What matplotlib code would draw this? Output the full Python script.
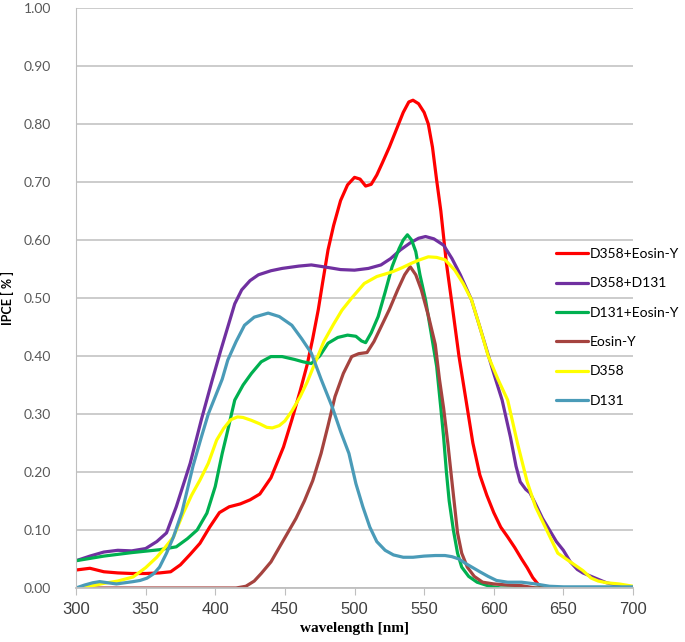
import matplotlib
matplotlib.use('Agg')
import matplotlib.pyplot as plt

# D358+Eosin-Y
wl_red = [300, 310, 320, 330, 340, 350, 360, 368, 375, 382, 389, 396, 403, 410, 418, 425, 432, 440, 449, 455,
          461, 466, 470, 474, 477, 481, 485, 490, 495, 500, 504, 508, 512, 516, 520, 525, 530, 535, 539, 542,
          546, 550, 553, 556, 559, 562, 566, 570, 575, 581, 585, 590, 595, 600, 605, 610, 615, 620, 624, 628,
          632, 636, 640, 650, 700]
iv_red = [0.031, 0.034, 0.028, 0.026, 0.025, 0.025, 0.026, 0.028, 0.040, 0.058, 0.077, 0.105, 0.130, 0.140,
          0.145, 0.152, 0.162, 0.190, 0.243, 0.290, 0.340, 0.385, 0.430, 0.480, 0.525, 0.583, 0.625, 0.668,
          0.695, 0.708, 0.705, 0.693, 0.696, 0.712, 0.733, 0.760, 0.790, 0.820, 0.838, 0.841, 0.835, 0.820,
          0.800, 0.760, 0.703, 0.650, 0.560, 0.490, 0.400, 0.310, 0.250, 0.195, 0.160, 0.130, 0.105, 0.088,
          0.070, 0.050, 0.035, 0.018, 0.006, 0.001, 0.0, 0.0, 0.0]

# D358+D131
wl_pur = [300, 310, 320, 330, 340, 350, 358, 365, 372, 382, 390, 398, 404, 409, 414, 419, 425, 431, 440, 448,
          460, 469, 480, 490, 500, 510, 519, 526, 533, 540, 546, 551, 557, 564, 570, 576, 584, 590, 595, 600,
          606, 612, 616, 619, 623, 626, 630, 635, 640, 645, 650, 655, 660, 664, 670, 675, 681, 690, 700]
iv_pur = [0.047, 0.055, 0.062, 0.065, 0.064, 0.068, 0.080, 0.095, 0.140, 0.215, 0.290, 0.360, 0.410, 0.450,
          0.490, 0.514, 0.530, 0.540, 0.547, 0.551, 0.555, 0.557, 0.553, 0.549, 0.548, 0.551, 0.557, 0.568,
          0.583, 0.595, 0.603, 0.606, 0.602, 0.591, 0.568, 0.540, 0.497, 0.450, 0.410, 0.370, 0.324, 0.260,
          0.210, 0.183, 0.170, 0.164, 0.145, 0.120, 0.100, 0.080, 0.065, 0.045, 0.032, 0.026, 0.020, 0.015,
          0.009, 0.004, 0.0]

# D131+Eosin-Y
wl_grn = [300, 310, 320, 330, 340, 348, 360, 372, 380, 387, 394, 400, 405, 408, 414, 420, 426, 433, 440, 448,
          457, 463, 469, 475, 481, 488, 495, 501, 505, 508, 512, 517, 522, 527, 532, 535, 538, 541, 544, 547,
          551, 555, 559, 562, 564, 566, 568, 571, 574, 577, 582, 588, 597, 605, 620, 700]
iv_grn = [0.047, 0.051, 0.055, 0.058, 0.061, 0.063, 0.066, 0.071, 0.085, 0.100, 0.129, 0.175, 0.232, 0.262,
          0.324, 0.350, 0.370, 0.390, 0.399, 0.399, 0.394, 0.390, 0.387, 0.400, 0.422, 0.432, 0.436, 0.434,
          0.426, 0.423, 0.440, 0.468, 0.510, 0.554, 0.585, 0.600, 0.609, 0.600, 0.580, 0.540, 0.497, 0.440,
          0.382, 0.310, 0.260, 0.200, 0.150, 0.100, 0.060, 0.036, 0.020, 0.010, 0.003, 0.0, 0.0, 0.0]

# Eosin-Y
wl_brn = [300, 350, 400, 415, 422, 428, 433, 440, 446, 452, 458, 464, 470, 476, 481, 486, 492, 498, 503, 509,
          514, 519, 525, 531, 536, 540, 544, 548, 553, 558, 561, 564, 567, 570, 574, 577, 581, 586, 592, 600,
          610, 620, 630, 700]
iv_brn = [0.0, 0.0, 0.0, 0.0, 0.003, 0.012, 0.025, 0.045, 0.070, 0.095, 0.120, 0.150, 0.185, 0.232, 0.280,
          0.330, 0.370, 0.399, 0.404, 0.406, 0.425, 0.450, 0.480, 0.514, 0.540, 0.554, 0.540, 0.514, 0.470,
          0.420, 0.360, 0.310, 0.250, 0.183, 0.095, 0.060, 0.036, 0.020, 0.010, 0.007, 0.005, 0.004, 0.0, 0.0]

# D358
wl_yel = [300, 310, 320, 330, 341, 350, 358, 364, 370, 377, 383, 389, 395, 401, 406, 411, 416, 420, 426, 432,
          437, 441, 446, 450, 455, 461, 466, 472, 478, 485, 491, 498, 507, 516, 527, 534, 541, 547, 553, 559,
          565, 572, 578, 584, 590, 596, 603, 610, 617, 624, 630, 636, 641, 646, 652, 658, 664, 670, 675, 681,
          690, 700]
iv_yel = [0.0, 0.003, 0.008, 0.012, 0.019, 0.035, 0.053, 0.070, 0.088, 0.129, 0.160, 0.186, 0.215, 0.255,
          0.275, 0.290, 0.295, 0.294, 0.289, 0.283, 0.277, 0.276, 0.280, 0.288, 0.305, 0.330, 0.355, 0.390,
          0.425, 0.455, 0.479, 0.500, 0.525, 0.537, 0.545, 0.552, 0.560, 0.566, 0.571, 0.570, 0.566, 0.548,
          0.525, 0.497, 0.450, 0.400, 0.360, 0.324, 0.250, 0.183, 0.140, 0.110, 0.085, 0.060, 0.050, 0.040,
          0.030, 0.017, 0.012, 0.009, 0.007, 0.003]

# D131
wl_blu = [300, 306, 312, 317, 323, 329, 335, 341, 346, 351, 356, 360, 365, 370, 376, 380, 384, 390, 395, 400,
          405, 409, 415, 421, 428, 438, 446, 455, 462, 469, 476, 484, 490, 496, 501, 506, 511, 516, 522, 528,
          535, 542, 550, 558, 565, 570, 575, 580, 585, 590, 596, 602, 610, 620, 630, 640, 650, 700]
iv_blu = [0.0, 0.005, 0.009, 0.011, 0.009, 0.007, 0.009, 0.011, 0.013, 0.017, 0.025, 0.036, 0.060, 0.088,
          0.130, 0.170, 0.210, 0.260, 0.300, 0.330, 0.360, 0.393, 0.425, 0.453, 0.467, 0.474, 0.468, 0.453,
          0.430, 0.405, 0.360, 0.312, 0.270, 0.232, 0.180, 0.140, 0.105, 0.080, 0.065, 0.057, 0.053, 0.053,
          0.055, 0.056, 0.056, 0.054, 0.050, 0.042, 0.035, 0.028, 0.020, 0.013, 0.010, 0.010, 0.007, 0.003,
          0.002, 0.002]

series = [
    ('D358+Eosin-Y', wl_red, iv_red, '#FF0000'),
    ('D358+D131', wl_pur, iv_pur, '#7030A0'),
    ('D131+Eosin-Y', wl_grn, iv_grn, '#00B050'),
    ('Eosin-Y', wl_brn, iv_brn, '#A5433F'),
    ('D358', wl_yel, iv_yel, '#FFFF00'),
    ('D131', wl_blu, iv_blu, '#4A9BB8'),
]

x_ticks = [300, 350, 400, 450, 500, 550, 600, 650, 700]
y_ticks = [0.0, 0.1, 0.2, 0.3, 0.4, 0.5, 0.6, 0.7, 0.8, 0.9, 1.0]

fig = plt.figure(figsize=(6.85, 6.42), dpi=100)
ax = fig.add_axes([76 / 685, 54 / 642, 557 / 685, 580 / 642])

for name, xs, ys, col in series:
    ax.plot(xs, ys, color=col, lw=2.3, label=name, solid_joinstyle='round', solid_capstyle='round')

ax.set_xlim(300, 700)
ax.set_ylim(0, 1.0)
ax.set_xticks(x_ticks)
ax.set_yticks(y_ticks)
ax.set_yticklabels(['%.2f' % v for v in y_ticks], fontsize=10, color='#595959', family=['Lato', 'DejaVu Sans'])
ax.set_xticklabels([str(v) for v in x_ticks], fontsize=12, color='#404040',
                   family=['Liberation Sans Narrow', 'Liberation Sans', 'DejaVu Sans'])
ax.grid(axis='y', color='#BFBFBF', lw=1.1)
ax.set_axisbelow(True)
for s in ['top', 'right']:
    ax.spines[s].set_visible(False)
ax.spines['left'].set_color('#BFBFBF')
ax.spines['bottom'].set_color('#BFBFBF')
ax.spines['bottom'].set_linewidth(1.3)
ax.tick_params(axis='y', length=0, pad=18)
ax.tick_params(axis='x', length=5, color='#BFBFBF', pad=5)

ax.set_xlabel('wavelength [nm]', fontsize=11, fontweight='bold', family='Liberation Serif', labelpad=4)
ax.set_ylabel('IPCE [ % ]', fontsize=9, fontweight='bold', family=['Lato', 'DejaVu Sans'])
ax.yaxis.set_label_coords(-0.112, 0.5)

fig.legend(loc='upper left', bbox_to_anchor=(556 / 685, 1 - 248 / 642), frameon=False,
           handlelength=2.3, handletextpad=0.15, labelspacing=1.25, borderpad=0, borderaxespad=0,
           prop={'family': ['Lato', 'DejaVu Sans'], 'size': 10})

fig.savefig('out.png', dpi=100)
